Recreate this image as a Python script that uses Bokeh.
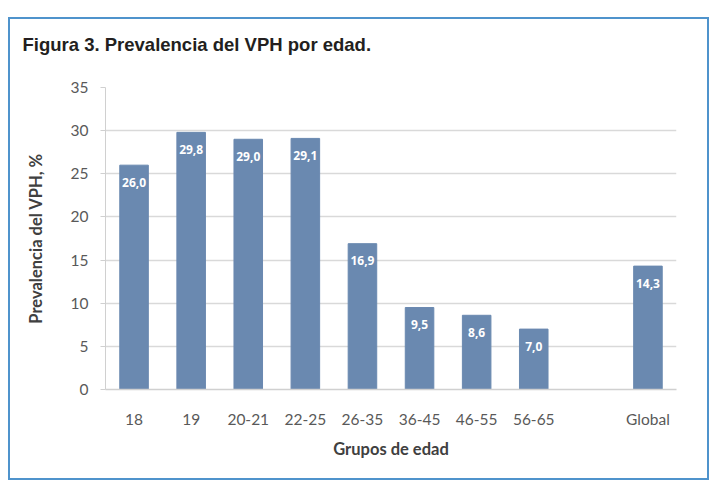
from bokeh.plotting import figure
from bokeh.models import FactorRange, Range1d, ColumnDataSource, FixedTicker, Title
from bokeh.core.properties import value
from bokeh.embed import file_html
from bokeh.resources import INLINE

categories = ["18", "19", "20-21", "22-25", "26-35", "36-45", "46-55", "56-65", "Global"]
values = [26.0, 29.8, 29.0, 29.1, 16.9, 9.5, 8.6, 7.0, 14.3]
labels = ["26,0", "29,8", "29,0", "29,1", "16,9", "9,5", "8,6", "7,0", "14,3"]
factors = categories[:8] + [" "] + categories[8:]
y_ticks = [0, 5, 10, 15, 20, 25, 30, 35]

src = ColumnDataSource(dict(x=categories, top=values, lab=labels))

p = figure(width=697, height=459, x_range=FactorRange(factors=factors, range_padding=0),
           y_range=Range1d(0, 35), output_backend="svg", toolbar_location=None,
           min_border_left=95, min_border_right=31, min_border_top=68, min_border_bottom=89,
           margin=(19, 0, 0, 10),
           styles={"outline": "2px solid #4f93cc"})
p.title.text = "Figura 3. Prevalencia del VPH por edad."
p.title.align = "left"
p.title.vertical_align = "top"
p.title.offset = -83
p.title.standoff = 25
p.title.text_font = "Liberation Sans"
p.title.text_font_style = "bold"
p.title.text_font_size = "18.5px"
p.title.text_color = "#231f20"
p.add_layout(Title(text=" ", text_font_size="14px", standoff=0), "above")
p.outline_line_color = None
p.background_fill_color = "white"
p.border_fill_color = "white"

p.vbar(x="x", top="top", width=0.5, source=src, fill_color="#6a89b0", line_color="#6a89b0")
p.text(x="x", y="top", text="lab", source=src, text_color="white", text_font=value("Open Sans"),
       text_font_style="bold", text_font_size="12px", text_align="center",
       text_baseline="middle", y_offset=17)

p.xgrid.grid_line_color = None
p.ygrid.grid_line_color = "#d9d9d9"
p.ygrid.grid_line_width = 1.5
p.yaxis.ticker = FixedTicker(ticks=y_ticks)
p.yaxis.minor_tick_line_color = None
p.yaxis.major_tick_in = 0
p.yaxis.major_tick_out = 5
p.yaxis.major_tick_line_color = "#d0d0d0"
p.yaxis.axis_line_color = "#d0d0d0"
p.yaxis.major_label_standoff = 12
p.xaxis.major_tick_in = 0
p.xaxis.major_tick_out = 0
p.xaxis.axis_line_color = "#d0d0d0"
p.xaxis.axis_line_width = 1.5
p.xaxis.major_label_standoff = 20

for ax in (p.xaxis, p.yaxis):
    ax.major_label_text_font = "Lato"
    ax.major_label_text_font_size = "15.5px"
    ax.major_label_text_color = "#595959"
    ax.axis_label_text_font = "Lato"
    ax.axis_label_text_font_style = "bold"
    ax.axis_label_text_font_size = "16.5px"
    ax.axis_label_text_color = "#404040"

p.xaxis.axis_label = "Grupos de edad"
p.xaxis.axis_label_standoff = 8
p.yaxis.axis_label = "Prevalencia del VPH, %"
p.yaxis.axis_label_standoff = 22

open("out.html", "w").write(file_html(p, INLINE))
